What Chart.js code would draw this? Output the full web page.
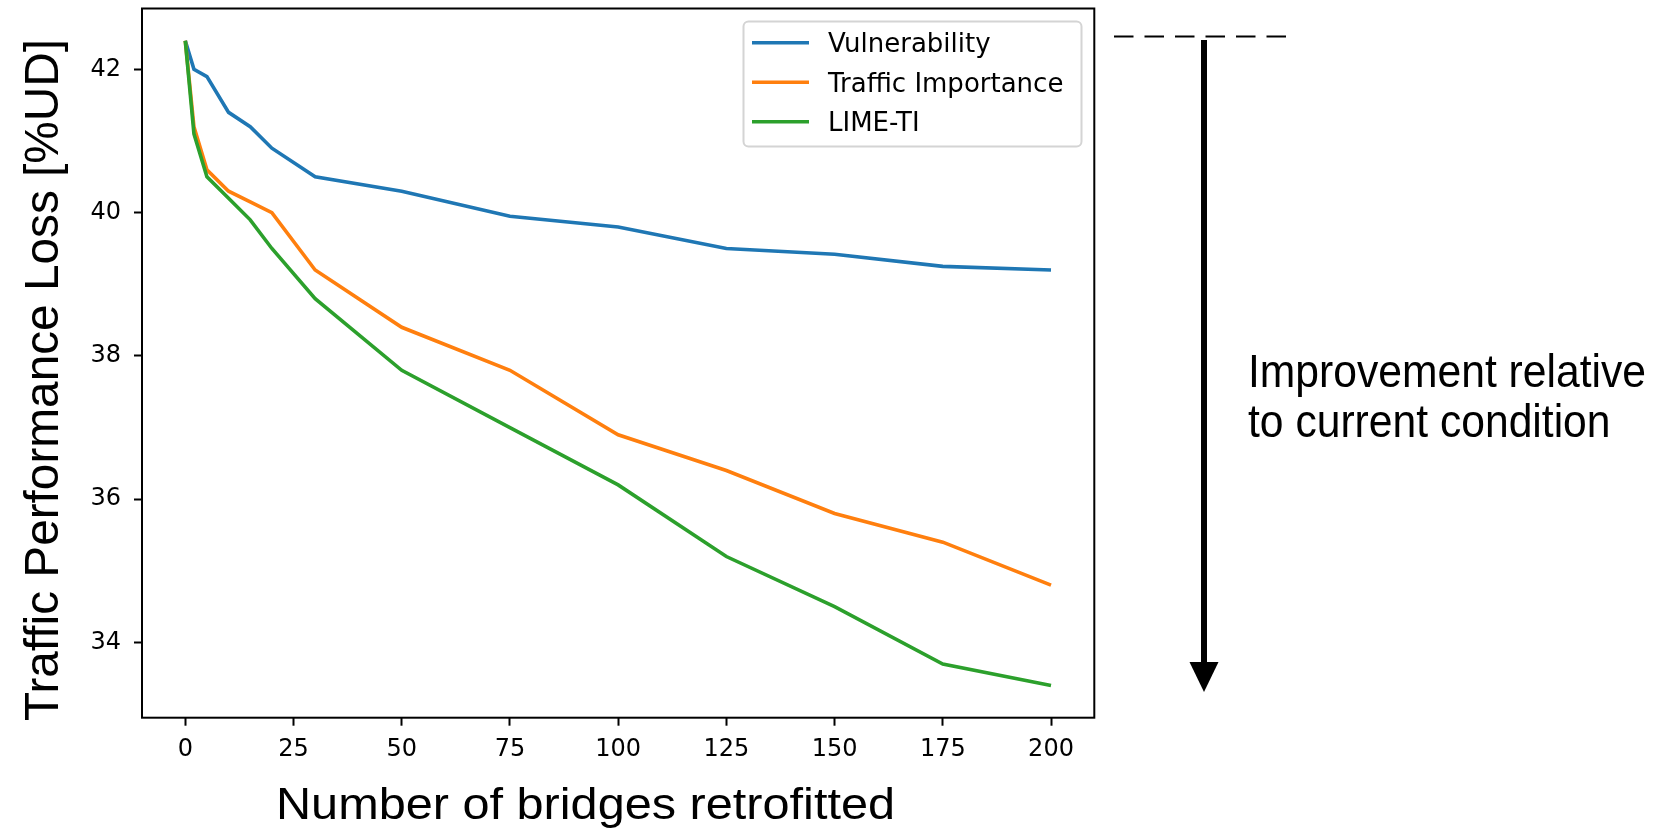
<!DOCTYPE html>
<html>
<head>
<meta charset="utf-8">
<title>Traffic performance loss vs bridges retrofitted</title>
<script src="https://cdn.jsdelivr.net/npm/chart.js@4.4.1/dist/chart.umd.min.js"></script>
<style>
    html, body { margin: 0; padding: 0; background: #fff; }
    canvas { display: block; }
</style>
</head>
<body>
<canvas id="lossChart" width="1655" height="829"></canvas>
<script>
// Number of bridges retrofitted
const bridges = [0, 2, 5, 10, 15, 20, 30, 50, 75, 100, 125, 150, 175, 200];

// Traffic performance loss [%UD] per ranking strategy
const vulnerability = [42.4, 42.0, 41.9, 41.4, 41.2, 40.9, 40.5, 40.3, 39.95, 39.8, 39.5, 39.42, 39.25, 39.2];
const trafficImportance = [42.4, 41.2, 40.6, 40.3, 40.15, 40.0, 39.2, 38.4, 37.8, 36.9, 36.4, 35.8, 35.4, 34.8];
const limeTi = [42.4, 41.1, 40.5, 40.2, 39.9, 39.5, 38.8, 37.8, 37.0, 36.2, 35.2, 34.5, 33.7, 33.4];

const seriesNames = ['Vulnerability', 'Traffic Importance', 'LIME-TI'];
const seriesColors = ['#1f77b4', '#ff7f0e', '#2ca02c'];

const xTicks = [0, 25, 50, 75, 100, 125, 150, 175, 200];
const yTicks = [34, 36, 38, 40, 42];

Chart.defaults.font.family = 'DejaVu Sans';
Chart.defaults.color = '#000';

function toPoints(ys) {
    return bridges.map((x, i) => ({ x: x, y: ys[i] }));
}

// draw a single line of text squeezed/stretched to a given width
function fittedText(ctx, text, x, y, size, width, rotate) {
    ctx.save();
    ctx.font = size + 'px "Liberation Sans", Arial, sans-serif';
    ctx.textAlign = 'left';
    ctx.textBaseline = 'alphabetic';
    const sx = width ? width / ctx.measureText(text).width : 1;
    ctx.translate(x, y);
    if (rotate) ctx.rotate(-Math.PI / 2);
    ctx.scale(sx, 1);
    ctx.fillText(text, 0, 0);
    ctx.restore();
    return sx;
}

const decorations = {
    id: 'decorations',
    afterDatasetsDraw(chart) {
        const ctx = chart.ctx;
        const a = chart.chartArea;

        // axes frame
        ctx.save();
        ctx.strokeStyle = '#000';
        ctx.lineWidth = 2;
        ctx.strokeRect(a.left, a.top, a.right - a.left, a.bottom - a.top);
        ctx.restore();

        // legend box, upper right inside the axes
        ctx.save();
        ctx.beginPath();
        ctx.roundRect(743.5, 21.5, 338, 125, 5);
        ctx.fillStyle = 'rgba(255,255,255,0.8)';
        ctx.fill();
        ctx.strokeStyle = '#d4d4d4';
        ctx.lineWidth = 2;
        ctx.stroke();
        ctx.font = '26px "DejaVu Sans"';
        ctx.textBaseline = 'alphabetic';
        chart.data.datasets.forEach((ds, i) => {
            const ly = 42.7 + i * 39.5;
            ctx.beginPath();
            ctx.moveTo(752, ly);
            ctx.lineTo(809, ly);
            ctx.strokeStyle = ds.borderColor;
            ctx.lineWidth = 3.6;
            ctx.stroke();
            ctx.fillStyle = '#000';
            ctx.fillText(ds.label, 828, ly + 9.6);
        });
        ctx.restore();
    },
    afterDraw(chart) {
        const ctx = chart.ctx;
        ctx.save();
        ctx.fillStyle = '#000';

        // axis titles
        fittedText(ctx, 'Traffic Performance Loss [%UD]', 58, 721, 49, 682, true);
        fittedText(ctx, 'Number of bridges retrofitted', 276, 819, 44, 619, false);

        // dashed reference level at the current condition
        ctx.strokeStyle = '#000';
        ctx.lineWidth = 2;
        ctx.setLineDash([19.5, 11]);
        ctx.beginPath();
        ctx.moveTo(1114, 36.5);
        ctx.lineTo(1296, 36.5);
        ctx.stroke();
        ctx.setLineDash([]);

        // downward arrow
        ctx.lineWidth = 6;
        ctx.beginPath();
        ctx.moveTo(1204, 40);
        ctx.lineTo(1204, 664);
        ctx.stroke();
        ctx.beginPath();
        ctx.moveTo(1189.5, 662);
        ctx.lineTo(1218.5, 662);
        ctx.lineTo(1204, 692);
        ctx.closePath();
        ctx.fill();

        // arrow caption
        const sx = fittedText(ctx, 'Improvement relative', 1248, 386.5, 46, 398, false);
        ctx.save();
        ctx.font = '46px "Liberation Sans", Arial, sans-serif';
        ctx.translate(1248, 436.5);
        ctx.scale(sx, 1);
        ctx.fillText('to current condition', 0, 0);
        ctx.restore();

        ctx.restore();
    }
};

const ctx = document.getElementById('lossChart').getContext('2d');
new Chart(ctx, {
    type: 'line',
    data: {
        datasets: [vulnerability, trafficImportance, limeTi].map((ys, i) => ({
            label: seriesNames[i],
            data: toPoints(ys),
            borderColor: seriesColors[i],
            backgroundColor: seriesColors[i],
            borderWidth: 3.6,
            pointRadius: 0,
            tension: 0,
            fill: false,
            order: 2 - i
        }))
    },
    options: {
        responsive: false,
        animation: false,
        events: [],
        layout: { padding: { left: 0, top: 8.5, right: 560.7, bottom: 0 } },
        plugins: {
            legend: { display: false },
            tooltip: { enabled: false }
        },
        scales: {
            x: {
                type: 'linear',
                min: -10,
                max: 210,
                afterBuildTicks: (s) => { s.ticks = xTicks.map(v => ({ value: v })); },
                afterFit: (s) => {
                    s.height = 111.3;
                    s.paddingLeft = 0;
                    s.paddingRight = 0;
                },
                grid: { drawOnChartArea: false, drawTicks: true, tickLength: 8, tickWidth: 2, tickColor: '#000' },
                border: { display: false },
                ticks: { autoSkip: false, maxRotation: 0, padding: 10, font: { size: 24 }, color: '#000' }
            },
            y: {
                type: 'linear',
                min: 32.95,
                max: 42.85,
                afterBuildTicks: (s) => { s.ticks = yTicks.map(v => ({ value: v })); },
                afterFit: (s) => {
                    s.width = 142;
                    s.paddingTop = 0;
                    s.paddingBottom = 0;
                },
                grid: { drawOnChartArea: false, drawTicks: true, tickLength: 8, tickWidth: 2, tickColor: '#000' },
                border: { display: false },
                ticks: { padding: 13, font: { size: 24 }, color: '#000' }
            }
        }
    },
    plugins: [decorations]
});
</script>
</body>
</html>
